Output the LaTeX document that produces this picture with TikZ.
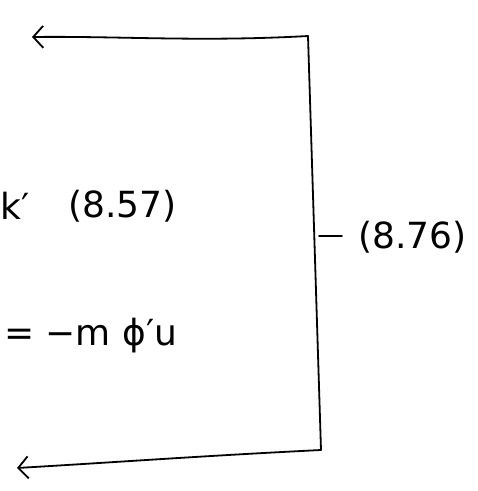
\documentclass[tikz,border=0pt]{standalone}
\usepackage{fontspec}
\setmainfont{DejaVu Sans}
\usetikzlibrary{arrows.meta}
\begin{document}
\begin{tikzpicture}[x=1pt,y=-1pt,
  wire/.style={line width=1.8pt,line cap=round,line join=round},
  arr/.style={wire,-{Straight Barb[length=10pt,width=22pt,line width=1.8pt]}},
  lbl/.style={font=\fontsize{36}{40}\selectfont,inner sep=0pt}]
\useasboundingbox (0,0) rectangle (478,491);
\coordinate (tl) at (32,37);
\coordinate (tr) at (308,36);
\coordinate (br) at (321,450);
\coordinate (bl) at (17,468);
\coordinate (tick) at (342,236);
\coordinate (tickbase) at (319,236);
\draw[arr] (tr) .. controls (200,42) and (120,36) .. (tl);
\draw[wire] (tr) -- (br);
\draw[arr] (br) .. controls (200,456) and (120,462) .. (bl);
\draw[wire] (tickbase) -- (tick);
\node[lbl,anchor=west] (k) at (0,206) {k′};
\node[lbl,anchor=west] (p1) at (68,206) {(8.57)};
\node[lbl,anchor=west] (p2) at (358,237) {(8.76)};
\node[lbl,anchor=west] (eq) at (4,336) {= −m ϕ′u};
\end{tikzpicture}
\end{document}
